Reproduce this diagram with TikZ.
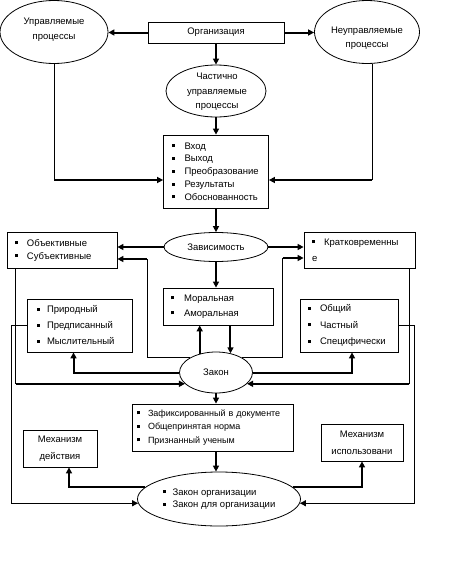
\documentclass[tikz,border=0pt]{standalone}
\usepackage{fontspec}
\setmainfont{Liberation Sans}
\usetikzlibrary{arrows.meta,calc,shapes.geometric}
\newcommand\myfs[1]{\fontsize{9.5}{#1}\selectfont}
\newcommand\bl[1][12pt]{\makebox[#1][l]{\rule[2pt]{3pt}{3pt}}}
\begin{document}
\begin{tikzpicture}[x=1pt,y=-1pt,
  every node/.style={font=\myfs{13.5}},
  box/.style={draw,line width=0.8pt,rectangle,inner sep=0pt,align=center},
  lbox/.style={draw,line width=0.8pt,rectangle,inner xsep=8pt,inner ysep=0pt,align=left},
  ell/.style={draw,line width=0.8pt,ellipse,inner sep=0pt,align=center},
  lab/.style={inner sep=0pt,align=center},
  thk/.style={line width=2pt,-{Triangle[length=6pt,width=6pt]}},
  thn/.style={line width=0.9pt},
  thna/.style={line width=0.9pt,-{Triangle[length=6pt,width=6pt]}},
]
\useasboundingbox (0,0) rectangle (467,573);
% nodes
\node[box,minimum width=136pt,minimum height=21pt] (org) at (216,32.5) {Организация};
\node[ell,minimum width=108pt,minimum height=63pt] (upr) at (54,32) {};
\node[lab,font=\myfs{15}] (uprT) at (54,30) {Управляемые\\процессы};
\node[ell,minimum width=105pt,minimum height=63pt] (neupr) at (367,32) {};
\node[lab,font=\myfs{13.5}] (neuprT) at (367,38) {Неуправляемые\\процессы};
\node[ell,minimum width=100pt,minimum height=52pt] (chast) at (216,91) {};
\node[lab,font=\myfs{14.5}] (chastT) at (217,92) {Частично\\управляемые\\процессы};
\node[lbox,text width=89pt,minimum height=73pt,font=\myfs{12.8}] (vhod) at (216,171.5)
  {\bl[13pt]Вход\\\bl[13pt]Выход\\\bl[13pt]Преобразование\\\bl[13pt]Результаты\\\bl[13pt]Обоснованность};
\node[ell,minimum width=104pt,minimum height=29pt] (zav) at (216,247) {Зависимость};
\node[lbox,text width=94pt,minimum height=36pt,font=\myfs{13}] (obj) at (62,250)
  {\bl Объективные\\\bl Субъективные};
\node[lbox,text width=95pt,minimum height=36pt,font=\myfs{16}] (krat) at (359.5,250)
  {\bl Кратковременны\\е};
\node[lbox,text width=94pt,minimum height=37pt,font=\myfs{15}] (moral) at (218,306.5)
  {\bl[13pt]Моральная\\\bl[13pt]Аморальная};
\node[lbox,text width=85pt,minimum height=53pt,inner xsep=10pt,font=\myfs{16}] (prir) at (79.5,325.5)
  {\bl[10pt]Природный\\\bl[10pt]Предписанный\\\bl[10pt]Мыслительный};
\node[lbox,text width=82pt,minimum height=53pt,font=\myfs{16.5}] (obsh) at (349,325.5)
  {\bl Общий\\\bl Частный\\\bl Специфически};
\node[ell,minimum width=73pt,minimum height=41pt] (zakon) at (216,372.5) {Закон};
\node[lbox,text width=151pt,inner xsep=5pt,minimum height=47pt,font=\fontsize{9}{13.5}\selectfont] (zafik) at (212.5,427.5)
  {\bl[11pt]Зафиксированный в документе\\\bl[11pt]Общепринятая норма\\\bl[11pt]Признанный ученым};
\node[box,minimum width=74pt,minimum height=37pt,font=\myfs{17}] (mehd) at (60,448.5) {Механизм\\действия};
\node[box,minimum width=82pt,minimum height=37pt,font=\myfs{17}] (mehi) at (362,442.5) {Механизм\\использовани};
\node[ell,minimum width=163pt,minimum height=54pt,align=left,font=\myfs{12.5}] (zo) at (219,499)
  {\bl[10pt]Закон организации\\\bl[10pt]Закон для организации};
% connectors
\draw[thk] (org.west) -- (org.west -| upr.east);
\draw[thk] (org.east) -- (org.east -| neupr.west);
\draw[thk] (org.south) -- (chast.north);
\draw[thk] (chast.south) -- (vhod.north);
\coordinate (vl) at ($(vhod.west)+(0,8.5)$);
\draw[thn] (upr.south) -- (upr.south |- vl);
\draw[thk] (upr.south |- vl) -- (vl);
\coordinate (nb) at ($(neupr.south)+(5,0)$);
\coordinate (vr) at ($(vhod.east)+(0,8.5)$);
\draw[thn] (nb) -- (nb |- vr);
\draw[thk] (nb |- vr) -- (vr);
\draw[thk] (vhod.south) -- (zav.north);
\draw[thk] (zav.west) -- (zav.west -| obj.east);
\draw[thk] (zav.east) -- (zav.east -| krat.west);
\draw[thk] (zav.south) -- (zav.south |- moral.north);
% Закон -> Субъективные / Кратковременные
\coordinate (sj) at ($(obj.east)+(0,9)$);
\coordinate (sjc) at ($(sj)+(30,0)$);
\draw[thn] (zakon.north west) -| (sjc);
\draw[thk] (sjc) -- (sj);
\coordinate (kt) at ($(krat.west)+(0,8)$);
\coordinate (ktc) at ($(kt)+(-21,0)$);
\draw[thn] (zakon.north east) -| (ktc);
\draw[thk] (ktc) -- (kt);
% Моральная <-> Закон
\draw[thk] (zakon.131) -- (zakon.131 |- moral.south);
\draw[thk] (moral.south -| zakon.53) -- (zakon.53);
% Объективные / Кратковременные -> Закон
\coordinate (ob) at ($(obj.south west)+(9,0)$);
\draw[thn] (ob) -- (ob |- zakon.200);
\draw[thk] (ob |- zakon.200) -- (zakon.200);
\coordinate (kb) at ($(krat.south east)+(-6,0)$);
\draw[thn] (kb) -- (kb |- zakon.340);
\draw[thk] (kb |- zakon.340) -- (zakon.340);
% Закон -> Природный / Общий
\coordinate (ps) at ($(prir.south)+(-6,0)$);
\draw[thk] (zakon.west) -| (ps);
\coordinate (os) at ($(obsh.south)+(3,0)$);
\draw[thk] (zakon.east) -| (os);
% Природный / Общий -> Закон организации
\draw[thna] (prir.west) -- ++(-15,0) |- (zo.183);
\draw[thna] (obsh.east) -- ++(16,0) |- (zo.357);
% Закон -> Зафиксированный -> Закон организации
\draw[thk] (zakon.south) -- (zakon.south |- zafik.north);
\draw[thk] (zakon.south |- zafik.south) -- (zakon.south |- zo.north);
% Закон организации -> Механизмы
\coordinate (ms) at ($(mehd.south)+(9,0)$);
\draw[thk] (zo.171) -| (ms);
\draw[thk] (zo.9) -| (mehi.south);
\end{tikzpicture}
\end{document}
